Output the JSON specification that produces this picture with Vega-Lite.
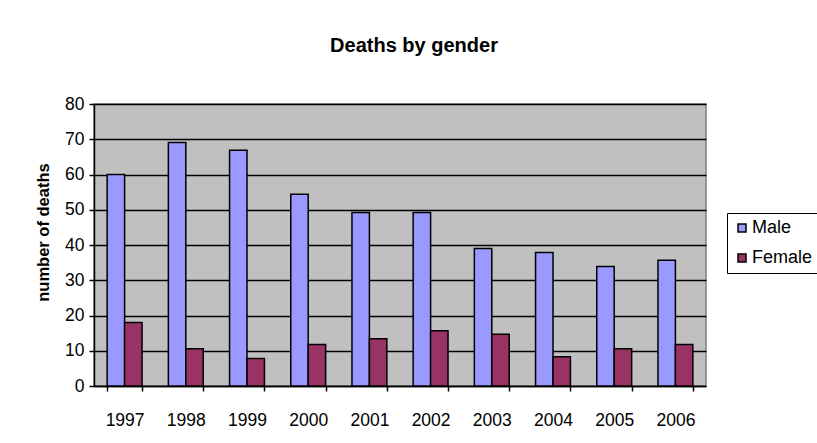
{
  "$schema": "https://vega.github.io/schema/vega-lite/v6.json",
  "autosize": "none",
  "width": 612,
  "height": 282,
  "padding": {"left": 94, "top": 104, "right": 111, "bottom": 57},
  "background": "white",
  "title": {"text": "Deaths by gender", "font": "Liberation Sans", "fontSize": 20, "fontWeight": "bold", "color": "black", "anchor": "middle", "offset": 39, "dx": 14},
  "data": {"values": [
    {"year": "1997", "gender": "Male", "deaths": 60.0},
    {"year": "1997", "gender": "Female", "deaths": 18.0},
    {"year": "1998", "gender": "Male", "deaths": 69.1},
    {"year": "1998", "gender": "Female", "deaths": 10.6},
    {"year": "1999", "gender": "Male", "deaths": 66.9},
    {"year": "1999", "gender": "Female", "deaths": 7.8},
    {"year": "2000", "gender": "Male", "deaths": 54.4},
    {"year": "2000", "gender": "Female", "deaths": 11.8},
    {"year": "2001", "gender": "Male", "deaths": 49.2},
    {"year": "2001", "gender": "Female", "deaths": 13.4},
    {"year": "2002", "gender": "Male", "deaths": 49.2},
    {"year": "2002", "gender": "Female", "deaths": 15.7},
    {"year": "2003", "gender": "Male", "deaths": 39.0},
    {"year": "2003", "gender": "Female", "deaths": 14.7},
    {"year": "2004", "gender": "Male", "deaths": 37.9},
    {"year": "2004", "gender": "Female", "deaths": 8.3},
    {"year": "2005", "gender": "Male", "deaths": 33.9},
    {"year": "2005", "gender": "Female", "deaths": 10.6},
    {"year": "2006", "gender": "Male", "deaths": 35.7},
    {"year": "2006", "gender": "Female", "deaths": 11.8}
  ]},
  "mark": {"type": "bar", "stroke": "black", "strokeWidth": 1.5},
  "encoding": {
    "x": {
      "field": "year", "type": "nominal",
      "scale": {"paddingInner": 0.43, "paddingOuter": 0.215},
      "axis": {"title": null, "labelAngle": 0, "labelFont": "Liberation Sans", "labelFontSize": 17.5, "labelColor": "black",
               "domainColor": "black", "domainWidth": 1.5, "tickColor": "black", "tickWidth": 1.5, "tickBand": "extent", "tickSize": 5, "labelPadding": 20, "grid": false}
    },
    "xOffset": {"field": "gender", "type": "nominal", "sort": ["Male", "Female"], "scale": {"paddingInner": 0, "paddingOuter": 0}},
    "y": {
      "field": "deaths", "type": "quantitative",
      "scale": {"domain": [0, 80], "nice": false},
      "axis": {"title": "number of deaths", "titleFont": "Liberation Sans", "titleFontSize": 16.5, "titleFontWeight": "bold", "titleColor": "black",
               "titlePadding": 13, "titleY": 128, "values": [0,10,20,30,40,50,60,70,80], "labelFont": "Liberation Sans", "labelFontSize": 17.5, "labelColor": "black",
               "domainColor": "black", "domainWidth": 1.5, "tickColor": "black", "tickWidth": 1.5, "tickSize": 5, "labelPadding": 5,
               "grid": true, "gridColor": "black", "gridWidth": 1.5, "gridOpacity": 1}
    },
    "color": {
      "field": "gender", "type": "nominal",
      "scale": {"domain": ["Male", "Female"], "range": ["#9999FF", "#993366"]},
      "legend": {"title": null, "orient": "none", "legendX": 633, "legendY": 109, "symbolType": "square", "symbolSize": 64,
                 "symbolStrokeColor": "black", "symbolStrokeWidth": 1.5, "labelFont": "Liberation Sans", "labelFontSize": 18, "labelColor": "black",
                 "strokeColor": "black", "padding": 6, "rowPadding": 12, "labelOffset": 1}
    }
  },
  "config": {
    "view": {"fill": "#C0C0C0", "stroke": "#808080", "strokeWidth": 1.5}
  }
}
